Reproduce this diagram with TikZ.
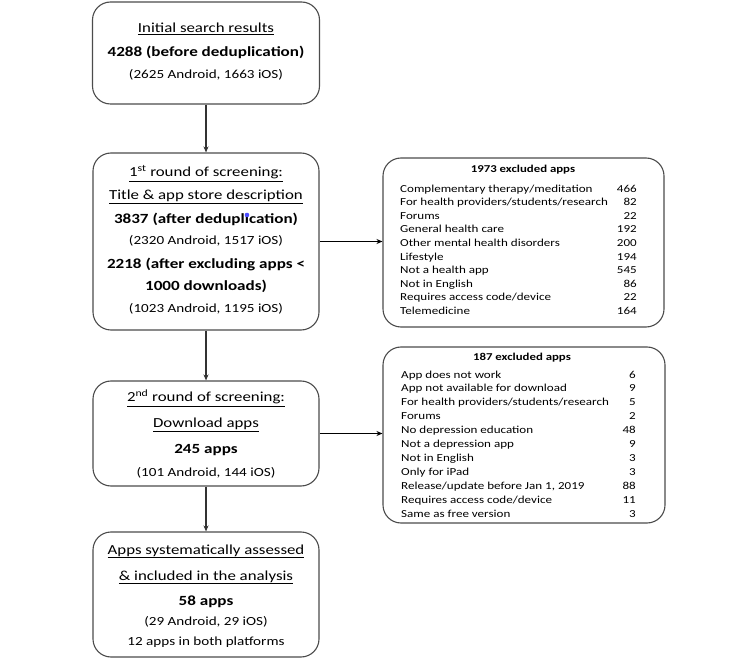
\documentclass[tikz,border=0pt]{standalone}
\usepackage{fontspec}
\setmainfont{Carlito}[FakeStretch=1.22]
\usetikzlibrary{arrows.meta}
\tikzset{
 box/.style={draw=black!70, line width=1.1pt, rounded corners=18pt, inner sep=0pt, fill=white},
 ttl/.style={anchor=base, font=\fontsize{13.8}{16}\selectfont, inner sep=0pt},
 bld/.style={anchor=base, font=\fontsize{14}{16}\selectfont\bfseries, inner sep=0pt},
 sub/.style={anchor=base, font=\fontsize{12.4}{15}\selectfont, inner sep=0pt},
 hdr/.style={anchor=base, font=\fontsize{10.5}{12}\selectfont\bfseries, inner sep=0pt},
 row/.style={anchor=base west, font=\fontsize{10.7}{12}\selectfont, inner sep=0pt},
 num/.style={anchor=base east, font=\fontsize{10.7}{12}\selectfont, inner sep=0pt},
 arr/.style={draw=black!80, line width=1.3pt, -{Stealth[length=6pt,width=5pt]}},
 harr/.style={draw=black, line width=0.9pt, -{Stealth[length=6pt,width=5pt]}},
}
\begin{document}
\begin{tikzpicture}[x=1pt,y=-1pt]
\fill[white] (0,0) rectangle (750,660);
\useasboundingbox (0,0) rectangle (750,660);
% boxes
\node[box, minimum width=227pt, minimum height=102pt] (b1) at (206,53) {};
\node[box, minimum width=226pt, minimum height=177pt] (b2) at (206,241.5) {};
\node[box, minimum width=281pt, minimum height=169pt] (b3) at (523.5,242.5) {};
\node[box, minimum width=282pt, minimum height=176pt] (b4) at (524,435) {};
\node[box, minimum width=226pt, minimum height=105pt] (b5) at (206,433.5) {};
\node[box, minimum width=226pt, minimum height=125pt] (b6) at (206,594.5) {};
% arrows
\draw[arr] (b1) -- (b2);
\draw[arr] (b2) -- (b5);
\draw[arr] (b5) -- (b6);
\draw[harr] (b2.east) -- (b2.east -| b3.west);
\draw[harr] (b5.east) -- (b5.east -| b4.west);
% box 1
\node[ttl] (t1a) at (206,33) {\underline{Initial search results}};
\node[bld] (t1b) at (206,56.5) {4288 (before deduplication)};
\node[sub] (t1c) at (206,79) {(2625 Android, 1663 iOS)};
% box 2
\node[ttl] (t2a) at (206,177) {\underline{1\textsuperscript{st} round of screening:}};
\node[ttl] (t2b) at (206,200) {\underline{Title \& app store description}};
\node[bld] (t2c) at (206,224) {3837 (after deduplication)};
\node[sub] (t2d) at (206,245) {(2320 Android, 1517 iOS)};
\node[bld] (t2e) at (206,269) {2218 (after excluding apps <};
\node[bld] (t2f) at (206,291) {1000 downloads)};
\node[sub] (t2g) at (206,313) {(1023 Android, 1195 iOS)};
\fill[blue!70!white] (247,215) circle (2.3pt);
% box 5
\node[ttl] (t5a) at (206,402) {\underline{2\textsuperscript{nd} round of screening:}};
\node[ttl] (t5b) at (206,428) {\underline{Download apps}};
\node[bld] (t5c) at (206,453.5) {245 apps};
\node[sub] (t5d) at (206,476) {(101 Android, 144 iOS)};
% box 6
\node[ttl] (t6a) at (206,554) {\underline{Apps systematically assessed}};
\node[ttl] (t6b) at (206,580) {\underline{\& included in the analysis}};
\node[bld] (t6c) at (206,605) {58 apps};
\node[sub] (t6d) at (206,625) {(29 Android, 29 iOS)};
\node[sub] (t6e) at (206,645) {12 apps in both platforms};
% box 3
\node[hdr] (h3) at (523,173) {1973 excluded apps};
\foreach [count=\i] \a/\b in {{Complementary therapy/meditation}/466,
  {For health providers/students/research}/82, {Forums}/22,
  {General health care}/192, {Other mental health disorders}/200,
  {Lifestyle}/194, {Not a health app}/545, {Not in English}/86,
  {Requires access code/device}/22, {Telemedicine}/164}{
  \node[row] (r3l\i) at (400,{192.3+13.55*(\i-1)}) {\a};
  \node[num] (r3n\i) at (637,{192.3+13.55*(\i-1)}) {\b};
}
% box 4
\node[hdr] (h4) at (522,360) {187 excluded apps};
\foreach [count=\i] \a/\b in {{App does not work}/6,
  {App not available for download}/9,
  {For health providers/students/research}/5, {Forums}/2,
  {No depression education}/48, {Not a depression app}/9,
  {Not in English}/3, {Only for iPad}/3,
  {Release/update before Jan 1, 2019}/88,
  {Requires access code/device}/11, {Same as free version}/3}{
  \node[row] (r4l\i) at (401,{378+13.95*(\i-1)}) {\a};
  \node[num] (r4n\i) at (636,{378+13.95*(\i-1)}) {\b};
}
\end{tikzpicture}
\end{document}
